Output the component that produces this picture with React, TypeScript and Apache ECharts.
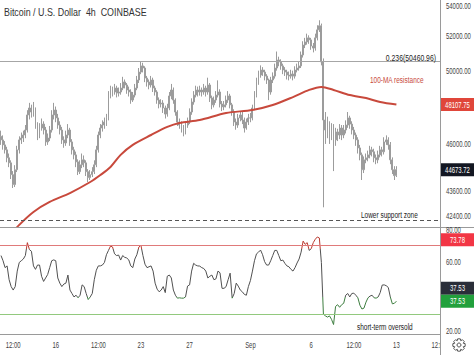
import React, { useEffect, useRef } from "react";
import * as echarts from "echarts";

// ---- price data (4h candles from 2021-08-11 12:00 UTC) ----
const firstOpen = 46400;
const closes = [
  46210, 45950, 45690, 45280, 45020, 44420, 43920, 44670, 45690, 46210,
  46310, 46470, 46735, 47540, 47920, 47700, 47810, 47000, 46470, 46840,
  47050, 46735, 46105, 46310, 46735, 47540, 47810, 47380, 47000, 46735,
  46210, 46050, 46470, 46735, 46105, 45690, 45430, 45070, 44570, 44920,
  45175, 45020, 44570, 44270, 44420, 44570, 44920, 45690, 46470, 46840,
  47000, 47160, 47380, 48630, 48910, 48800, 49020, 48740, 48800, 49020,
  49360, 49190, 48910, 48800, 48355, 48630, 49020, 49470, 49920, 50270,
  50150, 49580, 49360, 49190, 49470, 49020, 48800, 48355, 48140, 48190,
  47920, 47590, 47920, 48580, 48910, 48355, 47700, 47160, 47000, 46840,
  46630, 47000, 47160, 47700, 48250, 48630, 48910, 48800, 48910, 48800,
  49020, 48800, 49190, 48470, 48090, 48355, 48630, 48800, 48140, 47980,
  48090, 48355, 48580, 48090, 47700, 47160, 47000, 47380, 47540, 47270,
  46840, 47160, 47380, 47380, 47920, 48630, 49360, 49750, 50035, 49920,
  49690, 49470, 48800, 49470, 49690, 50150, 50610, 50500, 50270, 50035,
  49920, 49750, 49690, 49810, 49690, 50035, 50150, 50270, 50900, 51480,
  51660, 51900, 51780, 51420, 51300, 51900, 52375, 52620, 50500, 47270,
  46735, 47000, 46470, 46840, 46210, 46630, 46470, 46840, 46470, 46735,
  47000, 47380, 47050, 46735, 46470, 46210, 45790, 45430, 44670, 45175,
  45280, 45430, 45690, 45590, 45280, 45175, 45430, 45690, 45590, 46105,
  46210, 45950, 45175, 44670, 44370, 44673.72,
];
const lows = [
  45950, 45700, 45500, 45050, 44800, 44200, 43750, 43800, 44550, 45500,
  46000, 46100, 46300, 46600, 47300, 47400, 47450, 46800, 46200, 46300,
  46700, 46500, 45900, 45950, 46150, 46600, 47300, 47150, 46800, 46500,
  46000, 45800, 45900, 46300, 45900, 45450, 45200, 44800, 44400, 44450,
  44750, 44800, 44350, 44050, 44150, 44300, 44450, 44800, 45550, 46300,
  46650, 46800, 46950, 47250, 48450, 48550, 48650, 48500, 48550, 48650,
  48900, 49000, 48700, 48550, 48150, 48250, 48500, 48900, 49300, 49800,
  49900, 49350, 49100, 48950, 49050, 48800, 48600, 48150, 47900, 47950,
  47650, 47350, 47450, 47800, 48400, 48150, 47500, 46950, 46800, 46600,
  46400, 46500, 46850, 47050, 47550, 48100, 48500, 48550, 48600, 48550,
  48650, 48550, 48650, 48250, 47850, 47950, 48200, 48500, 47950, 47750,
  47800, 47950, 48200, 47900, 47500, 46950, 46750, 46850, 47200, 47050,
  46600, 46750, 47000, 47150, 47250, 47800, 48500, 49200, 49600, 49700,
  49450, 49250, 48350, 48650, 49300, 49550, 50000, 50250, 50050, 49800,
  49700, 49500, 49450, 49550, 49450, 49550, 49900, 50000, 50150, 50750,
  51300, 51500, 51550, 51200, 51050, 51150, 51750, 52250, 50300, 42800,
  46000, 46300, 46000, 46200, 44600, 45900, 46150, 46250, 46200, 46300,
  46550, 46850, 46800, 46500, 46250, 45900, 45500, 45150, 44150, 44500,
  45000, 45100, 45250, 45350, 45050, 44950, 45000, 45300, 45350, 45450,
  45950, 45700, 44950, 44450, 44150, 44300,
];
const highs = [
  46700, 46450, 46150, 45850, 45500, 45150, 44600, 44900, 45900, 46400,
  46600, 46700, 47000, 47800, 48200, 48100, 48250, 47950, 47150, 47100,
  47350, 47200, 46900, 46550, 46950, 47800, 48200, 48000, 47600, 47200,
  46900, 46400, 46700, 47050, 46850, 46250, 45850, 45600, 45200, 45150,
  45500, 45400, 45150, 44700, 44650, 44800, 45150, 45900, 46650, 47050,
  47250, 47400, 47600, 48850, 49150, 49100, 49250, 49150, 49050, 49300,
  49650, 49500, 49300, 49100, 48950, 48800, 49250, 49700, 50150, 50500,
  50450, 50250, 49700, 49500, 49700, 49600, 49150, 48900, 48500, 48400,
  48350, 48050, 48150, 48800, 49250, 49050, 48450, 47800, 47350, 47200,
  47000, 47200, 47400, 47900, 48450, 48850, 49150, 49100, 49150, 49050,
  49250, 49150, 49600, 49300, 48600, 48550, 48850, 49450, 48950, 48300,
  48300, 48600, 48850, 48700, 48200, 47850, 47350, 47600, 47750, 47700,
  47400, 47350, 47600, 47650, 48100, 48850, 49600, 50000, 50300, 50200,
  50050, 49800, 49550, 49650, 49900, 50400, 51100, 50800, 50650, 50400,
  50200, 50050, 49950, 50050, 50000, 50250, 50400, 50550, 51100, 51700,
  51900, 52150, 52050, 51900, 51600, 52150, 52650, 52950, 52750, 50700,
  47700, 47450, 47200, 47100, 47050, 46850, 46800, 47050, 47000, 47000,
  47250, 47700, 47500, 47200, 46900, 46600, 46350, 45950, 45550, 45350,
  45500, 45650, 45900, 45850, 45750, 45450, 45650, 45900, 45850, 46350,
  46450, 46350, 46100, 45300, 44850, 44850,
];

// 100-period moving average, read at sample candles
const maIndex = [0, 9, 16, 24, 34, 44, 49, 54, 59, 65, 74, 82, 88, 98, 111, 124, 134, 144, 152, 158, 164, 172, 180, 187, 195];
const maValues = [41000, 41950, 42575, 43060, 43500, 44050, 44400, 44810, 45430, 45950, 46470, 46900, 47110, 47270, 47650, 47810, 48085, 48520, 48915, 49080, 48915, 48630, 48465, 48250, 48107.75];

// RSI
const rsiValues = [
  64, 61, 57, 58, 50, 46, 44, 46, 55, 60,
  61, 62, 64, 71.5, 67.5, 66.5, 58, 56, 58.5, 58.5,
  52, 49, 51, 53, 57, 61, 61.5, 61, 51, 48,
  46, 47.5, 48, 52.7, 44, 42, 40, 41, 39.5, 41,
  47, 46, 42, 38.5, 40, 42, 50, 55.5, 58, 58,
  58.5, 60, 64.5, 67, 69.5, 69, 65, 64, 64.3, 61.4,
  64, 63, 62.6, 61.5, 58, 57, 62, 64.5, 69, 70,
  64, 59, 57, 57.5, 58, 55, 48, 44.5, 43, 44,
  46, 42.5, 52, 52.7, 51, 44, 41, 39.3, 39.5, 39.3,
  39.3, 40, 46.3, 47, 55, 59.5, 58.5, 58, 57.9, 57,
  56.5, 55, 51, 52, 52.7, 50, 50.5, 55, 54, 45,
  45, 46, 50, 53.8, 39.3, 42, 48, 46.3, 44, 43,
  41.5, 41, 46, 49.5, 55, 61, 65, 66, 67.2, 64.5,
  60.5, 58.5, 58.5, 61, 64, 67, 67, 64, 61, 61.4,
  59.5, 58, 57.5, 56, 55, 57, 59.7, 62, 66, 72.4,
  70.5, 71.5, 67, 68, 71.5, 73.5, 74.8, 74.2, 60, 30,
  29, 28.3, 29, 27, 24, 34.5, 35.5, 34, 35.5, 36.3,
  41, 42, 40, 42, 42.2, 41, 39.5, 35.2, 33, 33.5,
  37, 39.5, 40.5, 41, 39.5, 39.3, 40, 42.5, 46.9, 47,
  46.5, 45.5, 40, 36, 36.3, 37.53,
];

// axes / levels
const slotCount = 217;
const startUtc = Date.UTC(2021, 7, 11, 12);
const priceMin = 41851;
const priceMax = 54185;
const rsiMin = 18.5;
const rsiMax = 80;
const priceTicks = [54000, 52000, 50000, 46000, 43600, 42400];
const rsiTicks = [80, 60, 20];
const xTickTimes = ["2021-08-12 12:00", "2021-08-16 00:00", "2021-08-19 12:00", "2021-08-23 00:00", "2021-08-27 00:00", "2021-09-01 00:00", "2021-09-06 00:00", "2021-09-09 12:00", "2021-09-13 00:00", "2021-09-16 12:00"];
const xTickLabels = ["12:00", "16", "12:00", "23", "27", "Sep", "6", "12:00", "13", "12:00"];
const fibRatio = "0.236";
const fibLevel = 50460.96;
const supportLevel = 42000;
const maLast = 48107.75;
const lastPrice = 44673.72;
const rsiUpperValue = 73.78;
const rsiLast = 37.53;
const rsiSignal = 37.53;
const rsiOverbought = 70;
const rsiOversold = 30;

const FONT = "'Liberation Sans', Arial, sans-serif";

const pad = (n: number) => String(n).padStart(2, "0");
const categories: string[] = Array.from({ length: slotCount }, (_, i) => {
  const d = new Date(startUtc + i * 4 * 3600 * 1000);
  return `${d.getUTCFullYear()}-${pad(d.getUTCMonth() + 1)}-${pad(d.getUTCDate())} ${pad(d.getUTCHours())}:00`;
});

export default function App() {
  const ref = useRef<HTMLDivElement>(null);
  useEffect(() => {
    const chart = echarts.init(ref.current!, null, { renderer: "svg" });
    const LN = Math.log;
    const candles = closes.map((c, i) => {
      const o = i === 0 ? firstOpen : closes[i - 1];
      return [LN(o), LN(c), LN(lows[i]), LN(highs[i])];
    });
    const hiddenAxis = {
      axisLine: { show: false },
      axisTick: { show: false },
      axisLabel: { show: false },
      splitLine: { show: false },
    };
    chart.setOption({
      animation: false,
      backgroundColor: "#ffffff",
      grid: [
        { left: 0, right: 34, top: 0, height: 227 },
        { left: 0, right: 34, top: 228, height: 106 },
      ],
      xAxis: [
        { type: "category", gridIndex: 0, data: categories, boundaryGap: true, ...hiddenAxis },
        {
          type: "category",
          gridIndex: 1,
          data: categories,
          boundaryGap: true,
          axisLine: { show: true, lineStyle: { color: "#9a9a9a", width: 1 } },
          axisTick: { show: false },
          axisLabel: { show: false },
          splitLine: { show: false },
        },
      ],
      yAxis: [
        { type: "value", gridIndex: 0, position: "right", min: LN(priceMin), max: LN(priceMax), ...hiddenAxis },
        { type: "value", gridIndex: 1, position: "right", min: rsiMin, max: rsiMax, ...hiddenAxis },
      ],
      visualMap: {
        type: "piecewise",
        show: false,
        seriesIndex: 2,
        dimension: 1,
        pieces: [
          { lt: 40, color: "#3d7d3f" },
          { gte: 40, lte: 68, color: "#505050" },
          { gt: 68, color: "#b93a30" },
        ],
      },
      series: [
        {
          type: "candlestick",
          xAxisIndex: 0,
          yAxisIndex: 0,
          data: candles,
          barWidth: 1.4,
          itemStyle: {
            color: "#e2e2e2",
            color0: "#c2c2c2",
            borderColor: "#9c9c9c",
            borderColor0: "#9c9c9c",
            borderWidth: 1,
          },
          markLine: {
            silent: true,
            symbol: ["none", "none"],
            label: { show: false },
            data: [
              { yAxis: LN(fibLevel), lineStyle: { color: "#a6a6a6", width: 1, type: "solid" } },
              { yAxis: LN(supportLevel), lineStyle: { color: "#555555", width: 1, type: [4, 3] } },
            ],
          },
        },
        {
          type: "line",
          xAxisIndex: 0,
          yAxisIndex: 0,
          data: maIndex.map((idx, k) => [idx, LN(maValues[k])]),
          smooth: 0.3,
          symbol: "none",
          lineStyle: { color: "#c8493c", width: 2 },
          z: 3,
        },
        {
          type: "line",
          xAxisIndex: 1,
          yAxisIndex: 1,
          data: rsiValues.map((v, i) => [i, v]),
          symbol: "none",
          lineStyle: { width: 1 },
          markLine: {
            silent: true,
            symbol: ["none", "none"],
            label: { show: false },
            data: [
              { yAxis: rsiOverbought, lineStyle: { color: "#e07a7a", width: 1, type: "solid" } },
              { yAxis: rsiOversold, lineStyle: { color: "#92c97e", width: 1, type: "solid" } },
            ],
          },
        },
      ],
    });

    const yP = (v: number) => chart.convertToPixel({ yAxisIndex: 0 }, LN(v)) as number;
    const yR = (v: number) => chart.convertToPixel({ yAxisIndex: 1 }, v) as number;
    const xC = (c: string) => chart.convertToPixel({ xAxisIndex: 1 }, c) as number;

    const txt = (x: number, y: number, text: string, o: any = {}) => ({
      type: "text",
      x,
      y,
      scaleX: o.sx ?? 0.64,
      z: o.z ?? 100,
      silent: true,
      style: {
        text,
        fill: o.fill ?? "#3f3f3f",
        fontSize: o.fs ?? 9.3,
        fontFamily: FONT,
        align: o.align ?? "left",
        verticalAlign: "middle",
      },
    });
    const box = (y: number, text: string, bg: string) => [
      { type: "rect", z: 98, silent: true, shape: { x: 441, y: y - 6.5, width: 33, height: 13 }, style: { fill: bg } },
      txt(457.5, y, text, { fill: "#ffffff", align: "center", z: 99 }),
    ];

    const gearPts: number[][] = [];
    for (let j = 0; j < 8; j++) {
      const a = (j * Math.PI) / 4;
      gearPts.push([Math.cos(a - 0.39) * 4.6, Math.sin(a - 0.39) * 4.6]);
      gearPts.push([Math.cos(a - 0.22) * 6.3, Math.sin(a - 0.22) * 6.3]);
      gearPts.push([Math.cos(a + 0.22) * 6.3, Math.sin(a + 0.22) * 6.3]);
      gearPts.push([Math.cos(a + 0.39) * 4.6, Math.sin(a + 0.39) * 4.6]);
    }

    const rsiBlackY = yR(rsiSignal) - 13;
    const graphic: any[] = [
      txt(4, 12, "Bitcoin / U.S. Dollar  4h  COINBASE", { sx: 0.83, fs: 10.7, fill: "#333333" }),
      ...priceTicks.map((v) => txt(446, Math.max(yP(v), 6), v.toFixed(2))),
      ...rsiTicks.map((v) => txt(446, Math.max(yR(v), 230.5), v.toFixed(2))),
      ...xTickTimes.map((t, k) => txt(xC(t), 345, xTickLabels[k], { align: "center", z: 80 })),
      txt(436, yP(fibLevel) - 4.5, `${fibRatio}(${fibLevel.toFixed(2)})`, { align: "right", fill: "#222222", sx: 0.72, fs: 9.5 }),
      txt(370, 80, "100-MA resistance", { fill: "#c8493c", sx: 0.72, fs: 9 }),
      txt(361, yP(supportLevel) - 9, "Lower support zone", { fill: "#222222", sx: 0.72, fs: 9 }),
      txt(357, yR(rsiOversold) + 13, "short-term oversold", { fill: "#222222", sx: 0.72, fs: 9 }),
      ...box(yP(maLast), maLast.toFixed(2), "#e0463a"),
      ...box(yP(lastPrice), lastPrice.toFixed(2), "#131722"),
      ...box(yR(rsiUpperValue) + 1, rsiUpperValue.toFixed(2), "#f23645"),
      ...box(rsiBlackY, rsiLast.toFixed(2), "#2a2e39"),
      ...box(yR(rsiSignal), rsiSignal.toFixed(2), "#22a03c"),
      { type: "line", z: 95, silent: true, shape: { x1: 0, y1: 227.5, x2: 474, y2: 227.5 }, style: { stroke: "#9a9a9a", lineWidth: 1 } },
      { type: "line", z: 95, silent: true, shape: { x1: 440.5, y1: 0, x2: 440.5, y2: 355 }, style: { stroke: "#9a9a9a", lineWidth: 1 } },
      { type: "rect", z: 90, silent: true, shape: { x: 441, y: 335, width: 33, height: 20 }, style: { fill: "#ffffff" } },
      { type: "polygon", z: 100, silent: true, x: 459, y: 345, shape: { points: gearPts }, style: { stroke: "#555555", fill: "none", lineWidth: 1 } },
      { type: "circle", z: 100, silent: true, x: 459, y: 345, shape: { cx: 0, cy: 0, r: 2 }, style: { stroke: "#555555", fill: "none", lineWidth: 1 } },
    ];
    chart.setOption({ graphic });

    return () => chart.dispose();
  }, []);
  return <div ref={ref} style={{ position: "fixed", left: 0, top: 0, width: 474, height: 355 }} />;
}
